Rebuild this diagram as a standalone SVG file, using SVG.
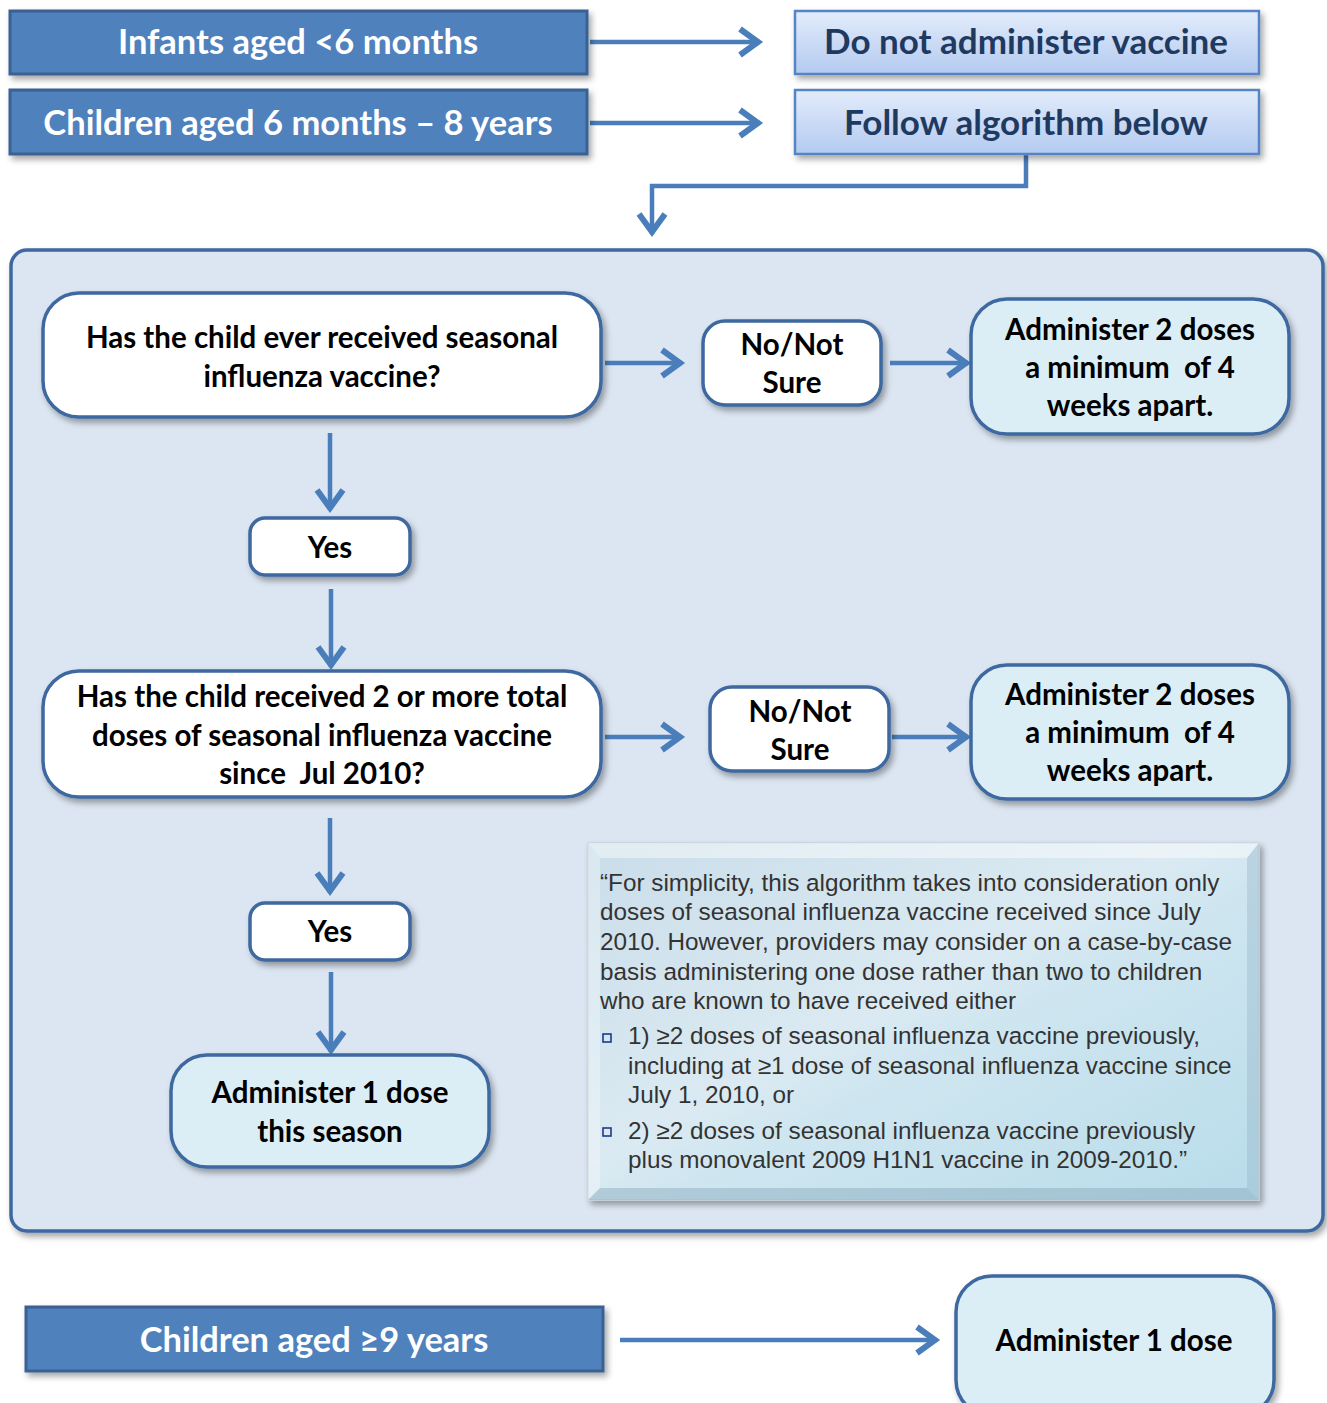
<svg xmlns="http://www.w3.org/2000/svg" width="1327" height="1403" viewBox="0 0 1327 1403">
<defs>
<style>
.hdr{fill:#4f81bd;stroke:#3a6091;stroke-width:3}
.hdrt{font-family:Lato,"Liberation Sans",sans-serif;font-weight:bold;font-size:34.5px;fill:#ffffff;text-anchor:middle}
.res{fill:url(#gRes);stroke:#5585c4;stroke-width:2.5}
.rest{font-family:Lato,"Liberation Sans",sans-serif;font-weight:bold;font-size:35px;fill:#1f3a60;text-anchor:middle}
.wb{fill:#ffffff;stroke:#3e68a0;stroke-width:3.5}
.lb{fill:#dbeef5;stroke:#3e68a0;stroke-width:3.5}
.nt{font-family:Lato,"Liberation Sans",sans-serif;font-weight:bold;font-size:29.5px;fill:#000000;text-anchor:middle;white-space:pre}
.note{font-family:"Liberation Sans",Arial,sans-serif;font-size:24.3px;fill:#333333}
.conn{fill:none;stroke:#4a7ebb;stroke-width:4.5}
</style>
<linearGradient id="gRes" x1="0" y1="0" x2="0" y2="1">
<stop offset="0" stop-color="#e3ecfb"/>
<stop offset="1" stop-color="#b3caf0"/>
</linearGradient>
<linearGradient id="gNote" x1="0" y1="0" x2="1" y2="1">
<stop offset="0" stop-color="#c9dde9"/>
<stop offset="0.45" stop-color="#dbeaf2"/>
<stop offset="0.55" stop-color="#cfe6f0"/>
<stop offset="1" stop-color="#b8dcea"/>
</linearGradient>
<filter id="sh" x="-10%" y="-10%" width="125%" height="135%">
<feDropShadow dx="3" dy="4" stdDeviation="3" flood-color="#000" flood-opacity="0.35"/>
</filter>
<marker id="ah" markerUnits="userSpaceOnUse" markerWidth="30" markerHeight="34" viewBox="0 0 30 34" refX="26" refY="17" orient="auto">
<path d="M6,4 L24,17 L6,30" fill="none" stroke="#4a7ebb" stroke-width="6" stroke-linejoin="miter"/>
</marker>
</defs>
<rect width="1327" height="1403" fill="#ffffff"/>

<g id="container">
<rect x="11" y="250" width="1312" height="981" rx="16" fill="#dce6f2" stroke="#3e68a0" stroke-width="3.5" filter="url(#sh)"/>
</g>

<g id="connectors">
<line class="conn" x1="590" y1="42" x2="760" y2="42" marker-end="url(#ah)"/>
<line class="conn" x1="590" y1="123" x2="760" y2="123" marker-end="url(#ah)"/>
<polyline class="conn" points="1026,155 1026,186 652,186 652,234" marker-end="url(#ah)"/>
<line class="conn" x1="605" y1="363" x2="682" y2="363" marker-end="url(#ah)"/>
<line class="conn" x1="890" y1="363" x2="968" y2="363" marker-end="url(#ah)"/>
<line class="conn" x1="330" y1="433" x2="330" y2="510" marker-end="url(#ah)"/>
<line class="conn" x1="331" y1="589" x2="331" y2="667" marker-end="url(#ah)"/>
<line class="conn" x1="605" y1="737" x2="682" y2="737" marker-end="url(#ah)"/>
<line class="conn" x1="892" y1="737" x2="968" y2="737" marker-end="url(#ah)"/>
<line class="conn" x1="330" y1="818" x2="330" y2="893" marker-end="url(#ah)"/>
<line class="conn" x1="331" y1="972" x2="331" y2="1052" marker-end="url(#ah)"/>
<line class="conn" x1="620" y1="1340" x2="937" y2="1340" marker-end="url(#ah)"/>
</g>

<g id="infants">
<rect class="hdr" x="10" y="11" width="577" height="63" filter="url(#sh)"/>
<text class="hdrt" x="298" y="54">Infants aged &lt;6 months</text>
</g>
<g id="children6m8y">
<rect class="hdr" x="10" y="90" width="577" height="64" filter="url(#sh)"/>
<text class="hdrt" x="298" y="135">Children aged 6 months – 8 years</text>
</g>
<g id="doNotAdminister">
<rect class="res" x="795" y="11" width="464" height="63" filter="url(#sh)"/>
<text class="rest" x="1026" y="54">Do not administer vaccine</text>
</g>
<g id="followAlgorithm">
<rect class="res" x="795" y="90" width="464" height="64" filter="url(#sh)"/>
<text class="rest" x="1026" y="135">Follow algorithm below</text>
</g>

<g id="q1">
<rect class="wb" x="43" y="293" width="558" height="124" rx="36" filter="url(#sh)"/>
<text class="nt" x="322" y="348">Has the child ever received seasonal</text>
<text class="nt" x="322" y="387">influenza vaccine?</text>
</g>
<g id="noNotSure1">
<rect class="wb" x="703" y="321" width="178" height="84" rx="22" filter="url(#sh)"/>
<text class="nt" x="792" y="355">No/Not</text>
<text class="nt" x="792" y="393">Sure</text>
</g>
<g id="administer2a">
<rect class="lb" x="971" y="299" width="318" height="135" rx="36" filter="url(#sh)"/>
<text class="nt" x="1130" y="340">Administer 2 doses</text>
<text class="nt" x="1130" y="378">a minimum  of 4</text>
<text class="nt" x="1130" y="416">weeks apart.</text>
</g>
<g id="yes1">
<rect class="wb" x="250" y="518" width="160" height="57" rx="15" filter="url(#sh)"/>
<text class="nt" x="330" y="558">Yes</text>
</g>
<g id="q2">
<rect class="wb" x="43" y="671" width="558" height="126" rx="36" filter="url(#sh)"/>
<text class="nt" x="322" y="707">Has the child received 2 or more total</text>
<text class="nt" x="322" y="746">doses of seasonal influenza vaccine</text>
<text class="nt" x="322" y="784">since  Jul 2010?</text>
</g>
<g id="noNotSure2">
<rect class="wb" x="710" y="687" width="179" height="84" rx="22" filter="url(#sh)"/>
<text class="nt" x="800" y="722">No/Not</text>
<text class="nt" x="800" y="760">Sure</text>
</g>
<g id="administer2b">
<rect class="lb" x="971" y="665" width="318" height="134" rx="36" filter="url(#sh)"/>
<text class="nt" x="1130" y="705">Administer 2 doses</text>
<text class="nt" x="1130" y="743">a minimum  of 4</text>
<text class="nt" x="1130" y="781">weeks apart.</text>
</g>
<g id="yes2">
<rect class="wb" x="250" y="903" width="160" height="57" rx="15" filter="url(#sh)"/>
<text class="nt" x="330" y="942">Yes</text>
</g>
<g id="administer1season">
<rect class="lb" x="171" y="1055" width="318" height="112" rx="36" filter="url(#sh)"/>
<text class="nt" x="330" y="1103">Administer 1 dose</text>
<text class="nt" x="330" y="1142">this season</text>
</g>

<g id="note">
<rect x="588" y="843" width="671" height="357" fill="url(#gNote)" stroke="#c8d4de" stroke-width="1.5" filter="url(#sh)"/>
<polygon points="588,843 1259,843 1247,858 600,858" fill="#ffffff" opacity="0.45"/>
<polygon points="588,843 600,858 600,1188 588,1200" fill="#ffffff" opacity="0.3"/>
<polygon points="1259,843 1259,1200 1247,1188 1247,858" fill="#8fb0c4" opacity="0.35"/>
<polygon points="588,1200 600,1188 1247,1188 1259,1200" fill="#7f9fb5" opacity="0.4"/>
<text class="note" x="600" y="891">“For simplicity, this algorithm takes into consideration only</text>
<text class="note" x="600" y="920">doses of seasonal influenza vaccine received since July</text>
<text class="note" x="600" y="950">2010. However, providers may consider on a case-by-case</text>
<text class="note" x="600" y="980">basis administering one dose rather than two to children</text>
<text class="note" x="600" y="1009">who are known to have received either</text>
<rect x="603" y="1034" width="8" height="8" fill="none" stroke="#1f3a8a" stroke-width="1.6"/>
<text class="note" x="628" y="1044">1) ≥2 doses of seasonal influenza vaccine previously,</text>
<text class="note" x="628" y="1074">including at ≥1 dose of seasonal influenza vaccine since</text>
<text class="note" x="628" y="1103">July 1, 2010, or</text>
<rect x="603" y="1128" width="8" height="8" fill="none" stroke="#1f3a8a" stroke-width="1.6"/>
<text class="note" x="628" y="1139">2) ≥2 doses of seasonal influenza vaccine previously</text>
<text class="note" x="628" y="1168">plus monovalent 2009 H1N1 vaccine in 2009-2010.”</text>
</g>

<g id="children9y">
<rect class="hdr" x="26" y="1307" width="577" height="64" filter="url(#sh)"/>
<text class="hdrt" x="314" y="1352">Children aged ≥9 years</text>
</g>
<g id="administer1dose">
<rect class="lb" x="956" y="1276" width="318" height="140" rx="36" filter="url(#sh)"/>
<text class="nt" x="1114" y="1351">Administer 1 dose</text>
</g>
</svg>
